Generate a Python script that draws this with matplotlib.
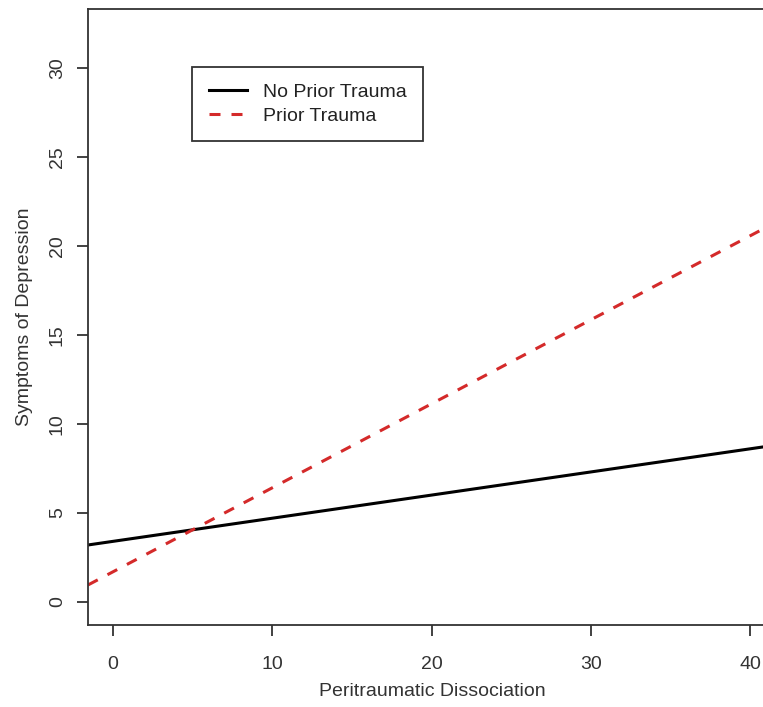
import matplotlib
matplotlib.use("Agg")
import matplotlib.pyplot as plt

# two fitted lines at x = 0 and x = 40
x_pts = [0, 40]
no_prior = [3.39, 8.59]
prior = [1.68, 20.56]

x_ticks = [0, 10, 20, 30, 40]
y_ticks = [0, 5, 10, 15, 20, 25, 30]

plt.rcParams['font.family'] = ['Liberation Sans', 'DejaVu Sans']

fig = plt.figure(figsize=(7.63, 7.07), dpi=100)
ax = fig.add_axes([88/763, 1-625/707, 1-88/763, (625-9)/707])

axc = '#333333'
ax.axline((x_pts[0], no_prior[0]), (x_pts[1], no_prior[1]), color='black', lw=2.2,
          label='No Prior Trauma')
ax.axline((x_pts[0], prior[0]), (x_pts[1], prior[1]), color='#d42a2a', lw=2.2,
          linestyle=(0, (3.6, 3.6)), label='Prior Trauma')

ax.set_xlim(-1.57, 40.8)
ax.set_ylim(-1.31, 33.3)
ax.set_xticks(x_ticks)
ax.set_yticks(y_ticks)
ax.tick_params(axis='both', length=8, width=1.3, color=axc, labelcolor='#333333',
               labelsize=14)
ax.tick_params(axis='x', pad=14)
ax.tick_params(axis='y', pad=8)
for lab in ax.get_yticklabels():
    lab.set_rotation(90)
    lab.set_va('center')
for s in ['left', 'bottom', 'top']:
    ax.spines[s].set_color(axc)
    ax.spines[s].set_linewidth(1.3)
ax.spines['right'].set_visible(False)

ax.set_xlabel('Peritraumatic Dissociation', fontsize=14, color='#333333')
ax.set_ylabel('Symptoms of Depression', fontsize=14, color='#333333')
ax.xaxis.set_label_coords((432-88)/675, -(683-625)/616)
ax.yaxis.set_label_coords(-(88-33)/675, 0.5)

leg = ax.legend(loc='upper left', bbox_to_anchor=((192-88)/675, (625-67)/616),
                fontsize=14, frameon=True, fancybox=False, framealpha=1,
                edgecolor=axc, handlelength=1.96, handletextpad=0.82,
                borderpad=0.85, labelspacing=0.3, borderaxespad=0)
leg.get_frame().set_linewidth(1.3)
for t in leg.get_texts():
    t.set_color('#222222')

fig.savefig('out.png', dpi=100)
